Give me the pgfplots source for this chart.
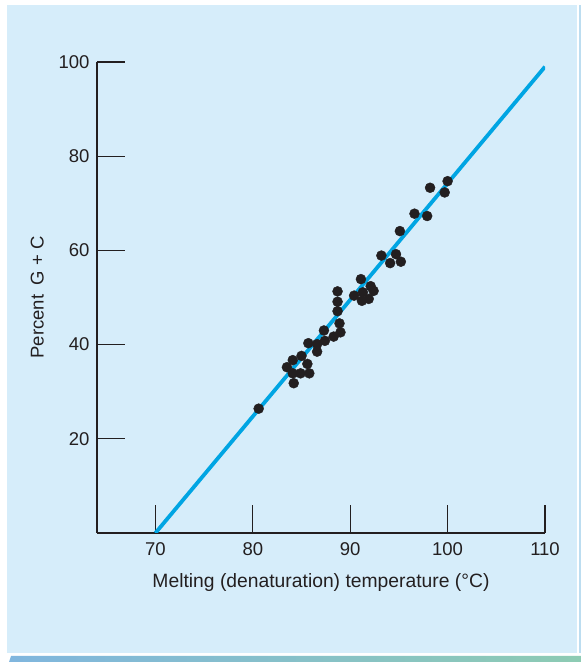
\documentclass[border=0pt]{standalone}
\usepackage{fontspec}
\setmainfont{Liberation Sans}
\usepackage{pgfplots}
\pgfplotsset{compat=1.18}
\definecolor{panel}{HTML}{D6EDFA}
\definecolor{fitline}{HTML}{00A5E3}
\definecolor{dotc}{HTML}{231F20}
\definecolor{stripeL}{HTML}{80B6DE}
\definecolor{stripeR}{HTML}{8DCBB3}
\definecolor{edgeR}{HTML}{BCDDF0}
\begin{document}
\begin{tikzpicture}[x=1pt,y=1pt]
\fill[white] (0,0) rectangle (581,662);
\fill[panel] (7,9) rectangle (577,657);
\fill[edgeR] (579,9) rectangle (581,657);
\shade[left color=stripeL, right color=stripeR] (9,0) -- (581,0) -- (581,6) -- (11,6) -- cycle;
\begin{axis}[
  at={(97pt,129pt)}, anchor=south west,
  scale only axis, width=448pt, height=471pt,
  xmin=64, xmax=110, ymin=0, ymax=100,
  axis lines*=left,
  axis line style={line width=2.6pt, color=dotc},
  xtick={70,80,90,100,110}, ytick={20,40,60,80,100},
  tick align=inside, major tick length=28pt,
  tick style={line width=1.1pt, color=dotc},
  /pgf/number format/assume math mode=true,
  ticklabel style={font=\fontsize{18.5}{21}\selectfont, color=dotc},
  xticklabel style={yshift=-6pt},
  yticklabel style={xshift=-4pt},
  label style={color=dotc},
  xlabel style={font=\fontsize{19.3}{22}\selectfont},
  ylabel style={font=\fontsize{18.5}{21}\selectfont},
  xlabel shift=11pt, ylabel shift=8pt,
  xlabel={Melting (denaturation) temperature (°C)},
  ylabel={Percent\enspace G + C},
]
\addplot[no marks, color=fitline, line width=3.8pt] coordinates {(70,0) (110,99)};
\addplot[only marks, mark=*, mark size=5pt, color=dotc, fill=dotc] coordinates {
(80.6,26.4) (84.2,31.8) (84.1,33.9) (84.9,33.9) (85.8,33.9) (83.5,35.2)
(85.6,35.9) (84.1,36.7) (85.0,37.6) (86.6,38.5) (85.7,40.3) (86.6,40.1)
(87.4,40.8) (88.3,41.7) (87.3,43.0) (89.0,42.6) (88.9,44.5) (88.7,47.1)
(88.7,49.1) (88.7,51.3) (90.4,50.4) (91.2,49.3) (91.9,49.7) (91.3,51.1)
(92.4,51.4) (92.1,52.4) (91.1,53.9) (93.2,58.9) (94.7,59.2) (94.1,57.3)
(95.2,57.6) (95.1,64.1) (96.6,67.8) (97.9,67.3) (98.2,73.3) (99.7,72.3)
(100.0,74.7)
};
\end{axis}
\end{tikzpicture}
\end{document}
